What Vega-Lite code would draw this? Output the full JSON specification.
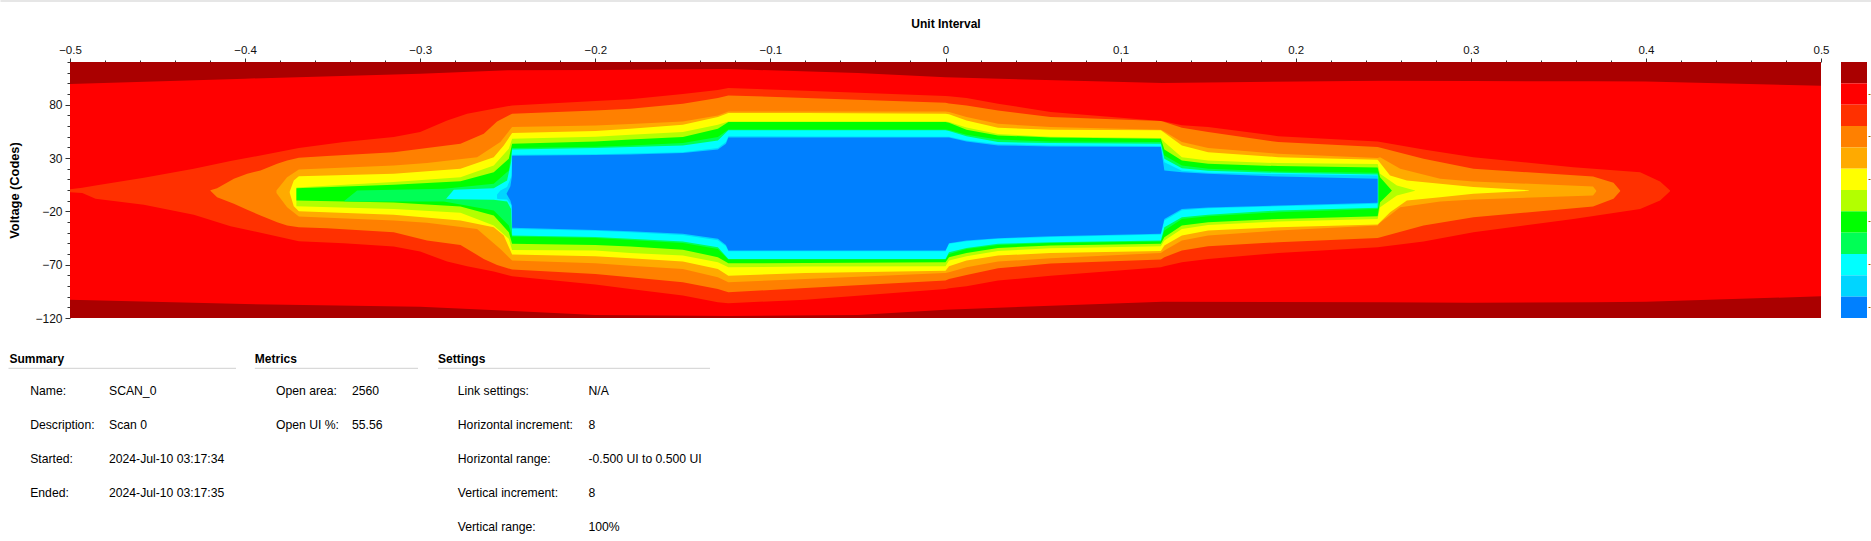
{"$schema":"https://vega.github.io/schema/vega-lite/v6.json","padding":0,"background":"white","bounds":"flush","columns":2,"spacing":{"row":0,"column":20},"config":{"view":{"stroke":null},"font":"Liberation Sans"},
"datasets":{"levels":[{"level":"L0"},{"level":"L1"},{"level":"L2"},{"level":"L3"},{"level":"L4"},{"level":"L5"},{"level":"L6"},{"level":"L7"},{"level":"L8"},{"level":"L9"},{"level":"L10"},{"level":"L11"}],
"eye":[
{"level":"L0","x":-0.5,"top":120,"bottom":-120},{"level":"L0","x":0.5,"top":120,"bottom":-120},
{"level":"L1","x":-0.5,"top":99.3,"bottom":-102.8},{"level":"L1","x":-0.4,"top":104.4,"bottom":-106.9},{"level":"L1","x":-0.3,"top":109.0,"bottom":-109.4},{"level":"L1","x":-0.25,"top":112.2,"bottom":-113.1},{"level":"L1","x":-0.2,"top":112.5,"bottom":-117.2},{"level":"L1","x":-0.124,"top":113.4,"bottom":-118.1},{"level":"L1","x":-0.05,"top":109.7,"bottom":-117.2},{"level":"L1","x":0,"top":105.6,"bottom":-112.2},{"level":"L1","x":0.124,"top":100.3,"bottom":-104.7},{"level":"L1","x":0.25,"top":102.5,"bottom":-105.3},{"level":"L1","x":0.3,"top":102.2,"bottom":-105.6},{"level":"L1","x":0.37,"top":101.9,"bottom":-105.3},{"level":"L1","x":0.4,"top":101.7,"bottom":-104.7},{"level":"L1","x":0.5,"top":97.8,"bottom":-99.7},
{"level":"L2","x":-0.5,"top":0.8,"bottom":-2.0},{"level":"L2","x":-0.493,"top":2.0,"bottom":-2.7},{"level":"L2","x":-0.4854,"top":4.2,"bottom":-8.3},{"level":"L2","x":-0.4578,"top":11.4,"bottom":-13.9},{"level":"L2","x":-0.4293,"top":19.9,"bottom":-23.3},{"level":"L2","x":-0.4083,"top":27.1,"bottom":-33.9},{"level":"L2","x":-0.3693,"top":39.3,"bottom":-48.0},{"level":"L2","x":-0.3436,"top":44.9,"bottom":-49.9},{"level":"L2","x":-0.3151,"top":49.6,"bottom":-53.0},{"level":"L2","x":-0.3,"top":54.3,"bottom":-57.7},{"level":"L2","x":-0.2846,"top":65.2,"bottom":-67.1},{"level":"L2","x":-0.2732,"top":71.5,"bottom":-71.5},{"level":"L2","x":-0.258,"top":76.2,"bottom":-76.5},{"level":"L2","x":-0.2475,"top":79.3,"bottom":-80.9},{"level":"L2","x":-0.2,"top":83.4,"bottom":-88.7},{"level":"L2","x":-0.18,"top":85.0,"bottom":-92.8},{"level":"L2","x":-0.15,"top":90.0,"bottom":-99.0},{"level":"L2","x":-0.13,"top":93.7,"bottom":-105.3},{"level":"L2","x":-0.124,"top":95.6,"bottom":-106.2},{"level":"L2","x":-0.08,"top":93.1,"bottom":-102.8},{"level":"L2","x":0,"top":88.1,"bottom":-92.8},{"level":"L2","x":0.002,"top":87.8,"bottom":-92.1},{"level":"L2","x":0.012,"top":86.2,"bottom":-90.3},{"level":"L2","x":0.03,"top":80.9,"bottom":-84.9},{"level":"L2","x":0.06,"top":73.1,"bottom":-80.3},{"level":"L2","x":0.123,"top":64.6,"bottom":-72.4},{"level":"L2","x":0.125,"top":64.3,"bottom":-71.5},{"level":"L2","x":0.135,"top":60.6,"bottom":-67.7},{"level":"L2","x":0.15,"top":59.0,"bottom":-64.6},{"level":"L2","x":0.19,"top":50.5,"bottom":-59.0},{"level":"L2","x":0.2468,"top":45.5,"bottom":-53.7},{"level":"L2","x":0.273,"top":38.0,"bottom":-48.3},{"level":"L2","x":0.3015,"top":30.8,"bottom":-39.6},{"level":"L2","x":0.3586,"top":21.4,"bottom":-27.1},{"level":"L2","x":0.3967,"top":16.7,"bottom":-17.7},{"level":"L2","x":0.4081,"top":8.0,"bottom":-9.9},{"level":"L2","x":0.4138,"top":-0.5,"bottom":-1.1},
{"level":"L3","x":-0.4198,"top":-0.2,"bottom":-0.8},{"level":"L3","x":-0.416,"top":1.7,"bottom":-6.7},{"level":"L3","x":-0.4064,"top":10.5,"bottom":-13.0},{"level":"L3","x":-0.3988,"top":15.2,"bottom":-18.6},{"level":"L3","x":-0.3912,"top":18.3,"bottom":-23.9},{"level":"L3","x":-0.3817,"top":24.6,"bottom":-30.2},{"level":"L3","x":-0.376,"top":27.7,"bottom":-33.3},{"level":"L3","x":-0.3693,"top":30.2,"bottom":-34.9},{"level":"L3","x":-0.3532,"top":31.8,"bottom":-35.8},{"level":"L3","x":-0.3151,"top":35.5,"bottom":-39.6},{"level":"L3","x":-0.2961,"top":39.3,"bottom":-47.4},{"level":"L3","x":-0.277,"top":43.3,"bottom":-51.5},{"level":"L3","x":-0.2637,"top":52.7,"bottom":-64.6},{"level":"L3","x":-0.2561,"top":64.3,"bottom":-70.2},{"level":"L3","x":-0.2475,"top":71.5,"bottom":-74.6},{"level":"L3","x":-0.2,"top":74.6,"bottom":-78.7},{"level":"L3","x":-0.18,"top":76.2,"bottom":-81.8},{"level":"L3","x":-0.15,"top":80.9,"bottom":-86.5},{"level":"L3","x":-0.13,"top":86.2,"bottom":-92.8},{"level":"L3","x":-0.124,"top":88.7,"bottom":-95.9},{"level":"L3","x":-0.08,"top":86.2,"bottom":-91.8},{"level":"L3","x":0,"top":81.8,"bottom":-84.9},{"level":"L3","x":0.002,"top":81.2,"bottom":-83.4},{"level":"L3","x":0.012,"top":79.3,"bottom":-79.6},{"level":"L3","x":0.03,"top":74.6,"bottom":-73.4},{"level":"L3","x":0.06,"top":68.4,"bottom":-69.0},{"level":"L3","x":0.123,"top":64.6,"bottom":-65.2},{"level":"L3","x":0.125,"top":63.7,"bottom":-63.0},{"level":"L3","x":0.135,"top":58.4,"bottom":-56.8},{"level":"L3","x":0.15,"top":54.3,"bottom":-52.7},{"level":"L3","x":0.19,"top":44.9,"bottom":-49.0},{"level":"L3","x":0.2468,"top":40.2,"bottom":-44.9},{"level":"L3","x":0.273,"top":29.3,"bottom":-33.3},{"level":"L3","x":0.3015,"top":19.9,"bottom":-25.5},{"level":"L3","x":0.3698,"top":12.7,"bottom":-15.5},{"level":"L3","x":0.3815,"top":6.7,"bottom":-8.3},{"level":"L3","x":0.3853,"top":-0.5,"bottom":-1.1},
{"level":"L4","x":-0.3821,"top":-0.5,"bottom":-2.7},{"level":"L4","x":-0.376,"top":12.0,"bottom":-16.1},{"level":"L4","x":-0.3693,"top":19.2,"bottom":-24.9},{"level":"L4","x":-0.3151,"top":23.0,"bottom":-28.6},{"level":"L4","x":-0.2961,"top":25.2,"bottom":-30.8},{"level":"L4","x":-0.2675,"top":30.8,"bottom":-36.5},{"level":"L4","x":-0.2542,"top":44.9,"bottom":-55.2},{"level":"L4","x":-0.2475,"top":59.0,"bottom":-66.2},{"level":"L4","x":-0.2,"top":60.5,"bottom":-68.7},{"level":"L4","x":-0.18,"top":61.8,"bottom":-70.9},{"level":"L4","x":-0.15,"top":64.3,"bottom":-74.0},{"level":"L4","x":-0.13,"top":69.9,"bottom":-81.8},{"level":"L4","x":-0.124,"top":73.7,"bottom":-86.5},{"level":"L4","x":-0.08,"top":73.7,"bottom":-83.4},{"level":"L4","x":0,"top":73.7,"bottom":-77.8},{"level":"L4","x":0.002,"top":73.1,"bottom":-77.1},{"level":"L4","x":0.012,"top":68.4,"bottom":-72.4},{"level":"L4","x":0.03,"top":62.1,"bottom":-67.1},{"level":"L4","x":0.06,"top":59.0,"bottom":-64.0},{"level":"L4","x":0.123,"top":56.5,"bottom":-59.0},{"level":"L4","x":0.125,"top":54.9,"bottom":-56.8},{"level":"L4","x":0.135,"top":44.9,"bottom":-47.4},{"level":"L4","x":0.15,"top":39.3,"bottom":-42.7},{"level":"L4","x":0.19,"top":34.0,"bottom":-38.0},{"level":"L4","x":0.2468,"top":29.9,"bottom":-33.3},{"level":"L4","x":0.2482,"top":30.8,"bottom":-30.8},{"level":"L4","x":0.2597,"top":19.9,"bottom":-16.1},{"level":"L4","x":0.2825,"top":10.5,"bottom":-10.8},{"level":"L4","x":0.3015,"top":8.0,"bottom":-8.9},{"level":"L4","x":0.3698,"top":3.3,"bottom":-5.2},{"level":"L4","x":0.3716,"top":-0.5,"bottom":-1.4},
{"level":"L5","x":-0.3745,"top":-1.4,"bottom":-2.7},{"level":"L5","x":-0.3722,"top":8.9,"bottom":-15.2},{"level":"L5","x":-0.3693,"top":13.0,"bottom":-19.9},{"level":"L5","x":-0.3151,"top":15.2,"bottom":-23.3},{"level":"L5","x":-0.277,"top":19.9,"bottom":-28.6},{"level":"L5","x":-0.258,"top":30.8,"bottom":-34.9},{"level":"L5","x":-0.2523,"top":41.8,"bottom":-42.7},{"level":"L5","x":-0.2475,"top":53.4,"bottom":-60.5},{"level":"L5","x":-0.2,"top":55.2,"bottom":-62.1},{"level":"L5","x":-0.18,"top":57.4,"bottom":-64.0},{"level":"L5","x":-0.15,"top":61.2,"bottom":-67.1},{"level":"L5","x":-0.13,"top":68.4,"bottom":-74.0},{"level":"L5","x":-0.124,"top":72.1,"bottom":-80.3},{"level":"L5","x":-0.08,"top":72.1,"bottom":-77.8},{"level":"L5","x":0,"top":71.5,"bottom":-75.6},{"level":"L5","x":0.002,"top":70.9,"bottom":-71.5},{"level":"L5","x":0.012,"top":65.2,"bottom":-66.2},{"level":"L5","x":0.03,"top":58.4,"bottom":-61.5},{"level":"L5","x":0.06,"top":56.5,"bottom":-59.0},{"level":"L5","x":0.123,"top":55.9,"bottom":-57.1},{"level":"L5","x":0.125,"top":53.7,"bottom":-52.1},{"level":"L5","x":0.135,"top":41.8,"bottom":-42.7},{"level":"L5","x":0.15,"top":35.5,"bottom":-38.0},{"level":"L5","x":0.19,"top":30.8,"bottom":-34.9},{"level":"L5","x":0.2468,"top":28.3,"bottom":-32.4},{"level":"L5","x":0.2539,"top":13.6,"bottom":-20.8},{"level":"L5","x":0.2635,"top":8.9,"bottom":-9.9},{"level":"L5","x":0.2825,"top":5.8,"bottom":-6.7},{"level":"L5","x":0.3015,"top":2.7,"bottom":-3.6},{"level":"L5","x":0.3331,"top":-0.2,"bottom":-0.8},
{"level":"L6","x":-0.3707,"top":2.4,"bottom":-15.2},{"level":"L6","x":-0.3151,"top":7.4,"bottom":-17.7},{"level":"L6","x":-0.277,"top":12.0,"bottom":-21.4},{"level":"L6","x":-0.258,"top":23.0,"bottom":-33.3},{"level":"L6","x":-0.2494,"top":38.6,"bottom":-45.8},{"level":"L6","x":-0.2475,"top":48.0,"bottom":-56.2},{"level":"L6","x":-0.2,"top":49.9,"bottom":-56.8},{"level":"L6","x":-0.18,"top":51.8,"bottom":-59.0},{"level":"L6","x":-0.15,"top":54.3,"bottom":-61.5},{"level":"L6","x":-0.13,"top":61.2,"bottom":-67.7},{"level":"L6","x":-0.124,"top":64.3,"bottom":-72.4},{"level":"L6","x":-0.08,"top":64.3,"bottom":-71.8},{"level":"L6","x":0,"top":64.3,"bottom":-71.5},{"level":"L6","x":0.002,"top":63.7,"bottom":-66.2},{"level":"L6","x":0.012,"top":58.7,"bottom":-62.1},{"level":"L6","x":0.03,"top":52.4,"bottom":-57.1},{"level":"L6","x":0.06,"top":49.9,"bottom":-54.6},{"level":"L6","x":0.123,"top":48.7,"bottom":-52.7},{"level":"L6","x":0.125,"top":44.9,"bottom":-47.4},{"level":"L6","x":0.135,"top":30.8,"bottom":-36.5},{"level":"L6","x":0.15,"top":27.7,"bottom":-32.7},{"level":"L6","x":0.19,"top":25.2,"bottom":-29.6},{"level":"L6","x":0.2468,"top":24.3,"bottom":-27.1},{"level":"L6","x":0.2482,"top":15.2,"bottom":-16.1},{"level":"L6","x":0.2578,"top":4.2,"bottom":-5.2},{"level":"L6","x":0.2682,"top":-0.5,"bottom":-0.8},
{"level":"L7","x":-0.3707,"top":1.7,"bottom":-9.9},{"level":"L7","x":-0.3151,"top":4.9,"bottom":-11.7},{"level":"L7","x":-0.277,"top":8.3,"bottom":-15.5},{"level":"L7","x":-0.258,"top":16.7,"bottom":-23.9},{"level":"L7","x":-0.2494,"top":29.3,"bottom":-39.6},{"level":"L7","x":-0.2475,"top":43.3,"bottom":-50.5},{"level":"L7","x":-0.2,"top":45.5,"bottom":-51.5},{"level":"L7","x":-0.18,"top":47.4,"bottom":-53.0},{"level":"L7","x":-0.15,"top":49.6,"bottom":-55.9},{"level":"L7","x":-0.13,"top":57.4,"bottom":-63.0},{"level":"L7","x":-0.124,"top":63.7,"bottom":-68.7},{"level":"L7","x":-0.08,"top":63.7,"bottom":-68.4},{"level":"L7","x":0,"top":63.7,"bottom":-67.7},{"level":"L7","x":0.002,"top":63.1,"bottom":-63.0},{"level":"L7","x":0.012,"top":56.5,"bottom":-59.0},{"level":"L7","x":0.03,"top":51.2,"bottom":-54.3},{"level":"L7","x":0.06,"top":49.3,"bottom":-52.1},{"level":"L7","x":0.123,"top":48.0,"bottom":-50.5},{"level":"L7","x":0.125,"top":38.0,"bottom":-44.3},{"level":"L7","x":0.135,"top":27.7,"bottom":-33.3},{"level":"L7","x":0.15,"top":24.6,"bottom":-30.2},{"level":"L7","x":0.19,"top":22.4,"bottom":-27.1},{"level":"L7","x":0.2468,"top":21.1,"bottom":-24.6},{"level":"L7","x":0.2482,"top":12.0,"bottom":-11.4},{"level":"L7","x":0.2549,"top":-0.5,"bottom":-0.8},
{"level":"L8","x":-0.3436,"top":-10.5,"bottom":-10.5},{"level":"L8","x":-0.336,"top":-0.5,"bottom":-10.8},{"level":"L8","x":-0.2865,"top":1.1,"bottom":-10.8},{"level":"L8","x":-0.258,"top":5.8,"bottom":-19.2},{"level":"L8","x":-0.2494,"top":18.3,"bottom":-33.3},{"level":"L8","x":-0.2475,"top":39.3,"bottom":-43.6},{"level":"L8","x":-0.2,"top":40.5,"bottom":-44.9},{"level":"L8","x":-0.18,"top":41.8,"bottom":-46.8},{"level":"L8","x":-0.15,"top":44.0,"bottom":-49.6},{"level":"L8","x":-0.13,"top":49.6,"bottom":-55.2},{"level":"L8","x":-0.124,"top":56.8,"bottom":-65.2},{"level":"L8","x":-0.08,"top":56.8,"bottom":-65.2},{"level":"L8","x":0,"top":56.8,"bottom":-65.2},{"level":"L8","x":0.002,"top":56.2,"bottom":-59.9},{"level":"L8","x":0.012,"top":51.8,"bottom":-55.2},{"level":"L8","x":0.03,"top":47.4,"bottom":-51.5},{"level":"L8","x":0.06,"top":45.5,"bottom":-49.6},{"level":"L8","x":0.123,"top":44.9,"bottom":-48.3},{"level":"L8","x":0.125,"top":32.4,"bottom":-38.0},{"level":"L8","x":0.135,"top":23.0,"bottom":-27.1},{"level":"L8","x":0.15,"top":19.9,"bottom":-24.6},{"level":"L8","x":0.19,"top":17.4,"bottom":-20.8},{"level":"L8","x":0.2468,"top":16.1,"bottom":-17.7},{"level":"L8","x":0.2475,"top":12.0,"bottom":-14.5},
{"level":"L9","x":-0.2852,"top":-8.3,"bottom":-8.3},{"level":"L9","x":-0.2808,"top":0.2,"bottom":-8.6},{"level":"L9","x":-0.258,"top":1.7,"bottom":-9.2},{"level":"L9","x":-0.2504,"top":8.9,"bottom":-10.8},{"level":"L9","x":-0.2481,"top":26.1,"bottom":-17.7},{"level":"L9","x":-0.2475,"top":38.0,"bottom":-42.7},{"level":"L9","x":-0.2,"top":39.3,"bottom":-44.0},{"level":"L9","x":-0.18,"top":40.2,"bottom":-45.8},{"level":"L9","x":-0.15,"top":41.8,"bottom":-48.3},{"level":"L9","x":-0.13,"top":46.5,"bottom":-53.7},{"level":"L9","x":-0.124,"top":55.9,"bottom":-64.6},{"level":"L9","x":-0.08,"top":55.9,"bottom":-64.6},{"level":"L9","x":0,"top":55.9,"bottom":-64.6},{"level":"L9","x":0.002,"top":55.2,"bottom":-58.4},{"level":"L9","x":0.012,"top":50.5,"bottom":-54.3},{"level":"L9","x":0.03,"top":44.9,"bottom":-50.5},{"level":"L9","x":0.06,"top":44.0,"bottom":-49.0},{"level":"L9","x":0.123,"top":43.3,"bottom":-47.4},{"level":"L9","x":0.125,"top":29.3,"bottom":-34.9},{"level":"L9","x":0.135,"top":20.5,"bottom":-25.5},{"level":"L9","x":0.15,"top":18.0,"bottom":-23.3},{"level":"L9","x":0.19,"top":16.1,"bottom":-19.2},{"level":"L9","x":0.2468,"top":14.6,"bottom":-16.7},
{"level":"L10","x":-0.2561,"top":-4.2,"bottom":-8.3},{"level":"L10","x":-0.2542,"top":-0.5,"bottom":-8.6},{"level":"L10","x":-0.2504,"top":2.7,"bottom":-8.9},{"level":"L10","x":-0.2477,"top":13.6,"bottom":-14.5},{"level":"L10","x":-0.2475,"top":33.0,"bottom":-36.5},{"level":"L10","x":-0.2,"top":33.6,"bottom":-38.3},{"level":"L10","x":-0.18,"top":34.3,"bottom":-39.6},{"level":"L10","x":-0.15,"top":35.5,"bottom":-42.1},{"level":"L10","x":-0.13,"top":39.3,"bottom":-47.1},{"level":"L10","x":-0.1254,"top":44.9,"bottom":-52.7},{"level":"L10","x":-0.124,"top":50.5,"bottom":-57.4},{"level":"L10","x":-0.08,"top":50.2,"bottom":-57.4},{"level":"L10","x":0,"top":49.9,"bottom":-57.4},{"level":"L10","x":0.002,"top":49.9,"bottom":-50.5},{"level":"L10","x":0.012,"top":46.5,"bottom":-48.0},{"level":"L10","x":0.03,"top":43.0,"bottom":-45.8},{"level":"L10","x":0.06,"top":41.8,"bottom":-44.0},{"level":"L10","x":0.123,"top":41.2,"bottom":-41.8},{"level":"L10","x":0.125,"top":26.1,"bottom":-28.6},{"level":"L10","x":0.135,"top":18.0,"bottom":-18.9},{"level":"L10","x":0.15,"top":16.1,"bottom":-17.0},{"level":"L10","x":0.19,"top":14.9,"bottom":-15.2},{"level":"L10","x":0.2468,"top":13.6,"bottom":-13.0},
{"level":"L11","x":-0.2507,"top":-3.6,"bottom":-3.6},{"level":"L11","x":-0.2485,"top":3.6,"bottom":-9.9},{"level":"L11","x":-0.2477,"top":12.0,"bottom":-14.5},{"level":"L11","x":-0.2475,"top":32.1,"bottom":-35.5},{"level":"L11","x":-0.2,"top":32.7,"bottom":-37.4},{"level":"L11","x":-0.18,"top":33.3,"bottom":-38.6},{"level":"L11","x":-0.15,"top":34.6,"bottom":-41.1},{"level":"L11","x":-0.13,"top":38.0,"bottom":-45.8},{"level":"L11","x":-0.1254,"top":43.3,"bottom":-51.5},{"level":"L11","x":-0.124,"top":49.3,"bottom":-56.8},{"level":"L11","x":-0.08,"top":49.3,"bottom":-56.8},{"level":"L11","x":0,"top":49.3,"bottom":-56.8},{"level":"L11","x":0.002,"top":49.3,"bottom":-49.9},{"level":"L11","x":0.012,"top":45.5,"bottom":-47.4},{"level":"L11","x":0.03,"top":41.8,"bottom":-45.2},{"level":"L11","x":0.06,"top":40.8,"bottom":-43.3},{"level":"L11","x":0.123,"top":40.2,"bottom":-41.1},{"level":"L11","x":0.125,"top":18.3,"bottom":-27.1},{"level":"L11","x":0.135,"top":16.7,"bottom":-17.7},{"level":"L11","x":0.15,"top":15.2,"bottom":-16.4},{"level":"L11","x":0.19,"top":12.7,"bottom":-14.5},{"level":"L11","x":0.2468,"top":10.5,"bottom":-12.0}
],
"texts":[
{"col":2,"row":1,"text":"Summary","kind":"head"},{"col":6,"row":1,"text":"Metrics","kind":"head"},{"col":10,"row":1,"text":"Settings","kind":"head"},
{"col":3,"row":3,"text":"Name:","kind":"body"},{"col":4,"row":3,"text":"SCAN_0","kind":"body"},
{"col":3,"row":4,"text":"Description:","kind":"body"},{"col":4,"row":4,"text":"Scan 0","kind":"body"},
{"col":3,"row":5,"text":"Started:","kind":"body"},{"col":4,"row":5,"text":"2024-Jul-10 03:17:34","kind":"body"},
{"col":3,"row":6,"text":"Ended:","kind":"body"},{"col":4,"row":6,"text":"2024-Jul-10 03:17:35","kind":"body"},
{"col":7,"row":3,"text":"Open area:","kind":"body"},{"col":8,"row":3,"text":"2560","kind":"body"},
{"col":7,"row":4,"text":"Open UI %:","kind":"body"},{"col":8,"row":4,"text":"55.56","kind":"body"},
{"col":11,"row":3,"text":"Link settings:","kind":"body"},{"col":12,"row":3,"text":"N/A","kind":"body"},
{"col":11,"row":4,"text":"Horizontal increment:","kind":"body"},{"col":12,"row":4,"text":"8","kind":"body"},
{"col":11,"row":5,"text":"Horizontal range:","kind":"body"},{"col":12,"row":5,"text":"-0.500 UI to 0.500 UI","kind":"body"},
{"col":11,"row":6,"text":"Vertical increment:","kind":"body"},{"col":12,"row":6,"text":"8","kind":"body"},
{"col":11,"row":7,"text":"Vertical range:","kind":"body"},{"col":12,"row":7,"text":"100%","kind":"body"}
]},
"concat":[
{"width":1751,"height":256,"resolve":{"axis":{"x":"independent","y":"independent"}},"layer":[
{"data":{"name":"eye"},"mark":{"type":"area","interpolate":"linear","line":false},"encoding":{
"x":{"field":"x","type":"quantitative","scale":{"domain":[-0.5,0.5],"nice":false,"zero":false},"axis":{"orient":"top","title":"Unit Interval","titleFontSize":12,"titleFontWeight":"bold","titleColor":"black","titlePadding":14,"values":[-0.5,-0.4,-0.3,-0.2,-0.1,0,0.1,0.2,0.3,0.4,0.5],"format":".1~f","labelFontSize":11.5,"labelColor":"#111","labelFlush":false,"labelPadding":3,"tickSize":4,"tickColor":"#333","domain":false,"grid":false}},
"y":{"field":"top","type":"quantitative","stack":null,"scale":{"domain":[-120,120],"nice":false,"zero":false},"axis":{"orient":"left","title":"Voltage (Codes)","titleFontSize":12.8,"titleFontWeight":"bold","titleColor":"black","titlePadding":13,"values":[-120,-70,-20,30,80],"labelFontSize":12,"labelColor":"#111","labelPadding":3,"tickSize":5,"tickColor":"#333","domain":false,"grid":false,"labelOverlap":false}},
"y2":{"field":"bottom"},
"color":{"field":"level","type":"nominal","legend":null,"sort":null,"scale":{"domain":["L0","L1","L2","L3","L4","L5","L6","L7","L8","L9","L10","L11"],"range":["#aa0000","#ff0000","#ff3000","#ff8000","#ffaa00","#ffff00","#b3ff00","#00ff00","#00ff55","#00ffff","#00d5ff","#0080ff"]}}}},
{"data":{"values":[{"from":-0.5397,"to":0.52855,"codeTop":178.1,"codeBottom":176.3}]},"mark":{"type":"rect","color":"#e6e6e6"},"encoding":{
"x":{"field":"from","type":"quantitative","scale":{"domain":[-0.5,0.5],"nice":false,"zero":false},"axis":{"orient":"top","title":null,"values":[-0.48,-0.46,-0.44,-0.42,-0.38,-0.36,-0.34,-0.32,-0.28,-0.26,-0.24,-0.22,-0.18,-0.16,-0.14,-0.12,-0.08,-0.06,-0.04,-0.02,0.02,0.04,0.06,0.08,0.12,0.14,0.16,0.18,0.22,0.24,0.26,0.28,0.32,0.34,0.36,0.38,0.42,0.44,0.46,0.48],"labels":false,"tickSize":2,"tickColor":"#333","domain":false,"grid":false}},
"x2":{"field":"to"},
"y":{"field":"codeTop","type":"quantitative","scale":{"domain":[-120,120],"nice":false,"zero":false},"axis":{"orient":"left","title":null,"values":[-110,-100,-90,-80,-60,-50,-40,-30,-10,0,10,20,40,50,60,70,90,100,110,120],"labels":false,"tickSize":3,"tickColor":"#333","domain":false,"grid":false}},
"y2":{"field":"codeBottom"}}}
]},
{"width":26,"height":256,"data":{"name":"levels"},"mark":{"type":"rect"},"encoding":{
"y":{"field":"level","type":"ordinal","sort":null,"scale":{"type":"band","paddingInner":0,"paddingOuter":0},"axis":{"orient":"right","title":null,"labels":false,"values":["L1","L3","L5","L7","L9","L11"],"tickSize":2,"offset":1,"tickColor":"#a06000","domain":false}},
"color":{"field":"level","type":"nominal","legend":null,"sort":null,"scale":{"domain":["L0","L1","L2","L3","L4","L5","L6","L7","L8","L9","L10","L11"],"range":["#aa0000","#ff0000","#ff3000","#ff8000","#ffaa00","#ffff00","#b3ff00","#00ff00","#00ff55","#00ffff","#00d5ff","#0080ff"]}}}},
{"width":641,"height":223,"layer":[
{"data":{"values":[{"from":1,"to":5,"row":2},{"from":6,"to":9,"row":2},{"from":10,"to":13,"row":2}]},"mark":{"type":"rule","color":"#d0d0d0","strokeWidth":1},"encoding":{
"x":{"field":"from","type":"quantitative","axis":null,"scale":{"domain":[1,2,3,4,5,6,7,8,9,10,11,12,13],"range":[-61.5,-60.6,-39.8,39,166,184.8,206,282,348,368,387.8,518.5,640]}},
"x2":{"field":"to"},
"y":{"field":"row","type":"quantitative","axis":null,"scale":{"domain":[1,2,3,4,5,6,7],"range":[41,50.3,73,107,140.7,174.7,208.7]}}}},
{"data":{"name":"texts"},"transform":[{"filter":"datum.kind === 'body'"}],"mark":{"type":"text","align":"left","baseline":"middle","fontSize":12.2,"color":"black"},"encoding":{
"x":{"field":"col","type":"quantitative","axis":null,"scale":{"domain":[1,2,3,4,5,6,7,8,9,10,11,12,13],"range":[-61.5,-60.6,-39.8,39,166,184.8,206,282,348,368,387.8,518.5,640]}},
"y":{"field":"row","type":"quantitative","axis":null,"scale":{"domain":[1,2,3,4,5,6,7],"range":[41,50.3,73,107,140.7,174.7,208.7]}},
"text":{"field":"text"}}},
{"data":{"name":"texts"},"transform":[{"filter":"datum.kind === 'head'"}],"mark":{"type":"text","align":"left","baseline":"middle","fontSize":12,"fontWeight":"bold","color":"black"},"encoding":{
"x":{"field":"col","type":"quantitative","axis":null,"scale":{"domain":[1,2,3,4,5,6,7,8,9,10,11,12,13],"range":[-61.5,-60.6,-39.8,39,166,184.8,206,282,348,368,387.8,518.5,640]}},
"y":{"field":"row","type":"quantitative","axis":null,"scale":{"domain":[1,2,3,4,5,6,7],"range":[41,50.3,73,107,140.7,174.7,208.7]}},
"text":{"field":"text"}}}
]}
]}
